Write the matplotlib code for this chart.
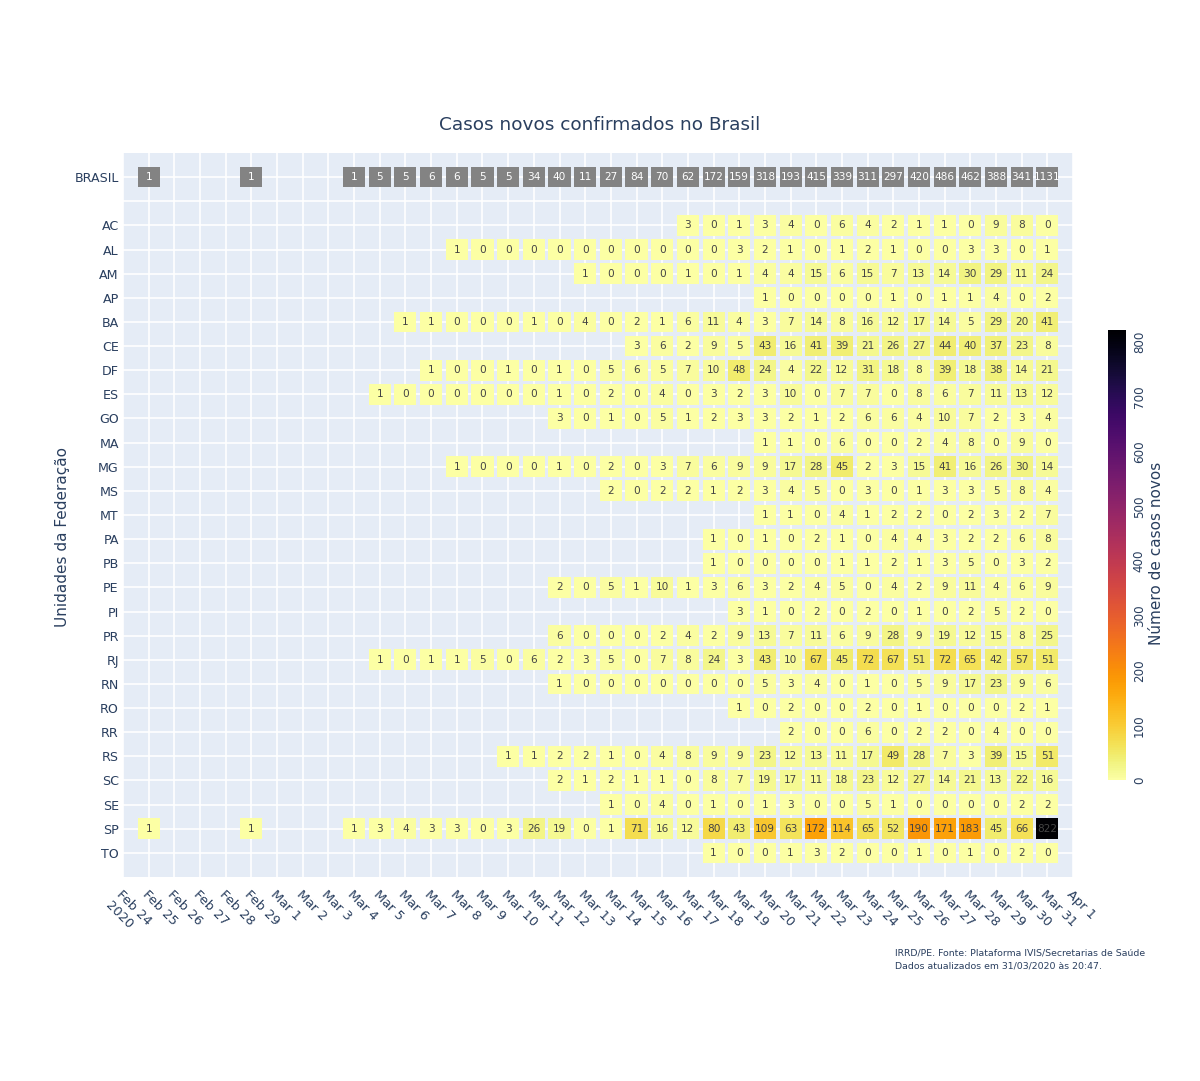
import matplotlib
matplotlib.use("Agg")
import matplotlib.pyplot as plt
import pandas as pd

# new confirmed cases per day, each series starts on its first_day
brasil = [1, None, None, None, 1, None, None, None, 1, 5, 5, 6, 6, 5, 5, 34, 40, 11, 27, 84,
          70, 62, 172, 159, 318, 193, 415, 339, 311, 297, 420, 486, 462, 388, 341, 1131]
brasil_start = "2020-02-25"

ac = [3, 0, 1, 3, 4, 0, 6, 4, 2, 1, 1, 0, 9, 8, 0]
al = [1, 0, 0, 0, 0, 0, 0, 0, 0, 0, 0, 3, 2, 1, 0, 1, 2, 1, 0, 0, 3, 3, 0, 1]
am = [1, 0, 0, 0, 1, 0, 1, 4, 4, 15, 6, 15, 7, 13, 14, 30, 29, 11, 24]
ap = [1, 0, 0, 0, 0, 1, 0, 1, 1, 4, 0, 2]
ba = [1, 1, 0, 0, 0, 1, 0, 4, 0, 2, 1, 6, 11, 4, 3, 7, 14, 8, 16, 12, 17, 14, 5, 29, 20, 41]
ce = [3, 6, 2, 9, 5, 43, 16, 41, 39, 21, 26, 27, 44, 40, 37, 23, 8]
df = [1, 0, 0, 1, 0, 1, 0, 5, 6, 5, 7, 10, 48, 24, 4, 22, 12, 31, 18, 8, 39, 18, 38, 14, 21]
es = [1, 0, 0, 0, 0, 0, 0, 1, 0, 2, 0, 4, 0, 3, 2, 3, 10, 0, 7, 7, 0, 8, 6, 7, 11, 13, 12]
go = [3, 0, 1, 0, 5, 1, 2, 3, 3, 2, 1, 2, 6, 6, 4, 10, 7, 2, 3, 4]
ma = [1, 1, 0, 6, 0, 0, 2, 4, 8, 0, 9, 0]
mg = [1, 0, 0, 0, 1, 0, 2, 0, 3, 7, 6, 9, 9, 17, 28, 45, 2, 3, 15, 41, 16, 26, 30, 14]
ms = [2, 0, 2, 2, 1, 2, 3, 4, 5, 0, 3, 0, 1, 3, 3, 5, 8, 4]
mt = [1, 1, 0, 4, 1, 2, 2, 0, 2, 3, 2, 7]
pa = [1, 0, 1, 0, 2, 1, 0, 4, 4, 3, 2, 2, 6, 8]
pb = [1, 0, 0, 0, 0, 1, 1, 2, 1, 3, 5, 0, 3, 2]
pe = [2, 0, 5, 1, 10, 1, 3, 6, 3, 2, 4, 5, 0, 4, 2, 9, 11, 4, 6, 9]
pi = [3, 1, 0, 2, 0, 2, 0, 1, 0, 2, 5, 2, 0]
pr = [6, 0, 0, 0, 2, 4, 2, 9, 13, 7, 11, 6, 9, 28, 9, 19, 12, 15, 8, 25]
rj = [1, 0, 1, 1, 5, 0, 6, 2, 3, 5, 0, 7, 8, 24, 3, 43, 10, 67, 45, 72, 67, 51, 72, 65, 42, 57, 51]
rn = [1, 0, 0, 0, 0, 0, 0, 0, 5, 3, 4, 0, 1, 0, 5, 9, 17, 23, 9, 6]
ro = [1, 0, 2, 0, 0, 2, 0, 1, 0, 0, 0, 2, 1]
rr = [2, 0, 0, 6, 0, 2, 2, 0, 4, 0, 0]
rs = [1, 1, 2, 2, 1, 0, 4, 8, 9, 9, 23, 12, 13, 11, 17, 49, 28, 7, 3, 39, 15, 51]
sc = [2, 1, 2, 1, 1, 0, 8, 7, 19, 17, 11, 18, 23, 12, 27, 14, 21, 13, 22, 16]
se = [1, 0, 4, 0, 1, 0, 1, 3, 0, 0, 5, 1, 0, 0, 0, 0, 2, 2]
sp = [1, None, None, None, 1, None, None, None, 1, 3, 4, 3, 3, 0, 3, 26, 19, 0, 1, 71, 16, 12,
      80, 43, 109, 63, 172, 114, 65, 52, 190, 171, 183, 45, 66, 822]
to = [1, 0, 0, 1, 3, 2, 0, 0, 1, 0, 1, 0, 2, 0]

states = ["AC", "AL", "AM", "AP", "BA", "CE", "DF", "ES", "GO", "MA", "MG", "MS", "MT", "PA",
          "PB", "PE", "PI", "PR", "RJ", "RN", "RO", "RR", "RS", "SC", "SE", "SP", "TO"]
series = [ac, al, am, ap, ba, ce, df, es, go, ma, mg, ms, mt, pa,
          pb, pe, pi, pr, rj, rn, ro, rr, rs, sc, se, sp, to]
first_day = ["2020-03-17", "2020-03-08", "2020-03-13", "2020-03-20", "2020-03-06", "2020-03-15",
             "2020-03-07", "2020-03-05", "2020-03-12", "2020-03-20", "2020-03-08", "2020-03-14",
             "2020-03-20", "2020-03-18", "2020-03-18", "2020-03-12", "2020-03-19", "2020-03-12",
             "2020-03-05", "2020-03-12", "2020-03-19", "2020-03-21", "2020-03-10", "2020-03-12",
             "2020-03-14", "2020-02-25", "2020-03-18"]

day0 = pd.Timestamp("2020-02-25")
tick_days = pd.date_range("2020-02-24", "2020-04-01", freq="D")
tick_labels = [d.strftime("%b ") + str(d.day) for d in tick_days]
tick_labels[0] += "\n2020"

row_labels = ["BRASIL", ""] + states
VMAX = 822
CELL = 0.86
TXT = "#2a3f5f"
FONT = "DejaVu Sans"
plt.rcParams["font.family"] = FONT

cmap = plt.get_cmap("inferno_r")
norm = plt.Normalize(0, VMAX)

fig = plt.figure(figsize=(12, 10.81), dpi=100)
ax = fig.add_axes([0.1025, 0.1887, 0.7917, 0.6698])
ax.set_facecolor("#E5ECF6")


def draw_row(row, start, values, gray=False):
    offset = (pd.Timestamp(start) - day0).days
    xs = [offset + i for i, v in enumerate(values) if v is not None]
    vs = [v for v in values if v is not None]
    colors = ["#838383"] * len(vs) if gray else [cmap(norm(v)) for v in vs]
    ax.bar(xs, CELL, bottom=row - CELL / 2, width=CELL, color=colors, zorder=3)
    for x, v in zip(xs, vs):
        ax.text(x, row, str(v), ha="center", va="center", fontsize=7.6,
                color="white" if gray else "#444444", zorder=4)


draw_row(0, brasil_start, brasil, gray=True)
for r, (start, vals) in enumerate(zip(first_day, series), start=2):
    draw_row(r, start, vals)

ax.set_xlim(-1, 36)
ax.set_ylim(29, -1)
ax.set_xticks(range(-1, 37))
ax.set_xticklabels(tick_labels, rotation=-45, ha="left", va="top",
                   rotation_mode="anchor", fontsize=9.4, color=TXT)
ax.set_yticks(range(len(row_labels)))
ax.set_yticklabels(row_labels, fontsize=9.1, color=TXT)
ax.tick_params(length=0)
ax.tick_params(axis="x", pad=8)
ax.tick_params(axis="y", pad=3)
ax.grid(color="white", linewidth=1.2, zorder=0)
ax.set_axisbelow(True)
for s in ax.spines.values():
    s.set_visible(False)

fig.text(0.5, 0.8844, "Casos novos confirmados no Brasil", ha="center", va="center",
         fontsize=13.3, color=TXT)
fig.text(0.052, 0.503, "Unidades da Federação", rotation=90, ha="center", va="center",
         fontsize=11, color=TXT)

cax = fig.add_axes([0.9233, 0.2784, 0.015, 0.4163])
sm = matplotlib.cm.ScalarMappable(norm=norm, cmap=cmap)
cb = fig.colorbar(sm, cax=cax)
cb.outline.set_visible(False)
cb.set_ticks(range(0, 801, 100))
cax.tick_params(length=0, pad=5, labelsize=8.6, labelcolor=TXT)
for t in cax.get_yticklabels():
    t.set_rotation(90)
    t.set_va("center")
fig.text(0.964, 0.488, "Número de casos novos", rotation=90, ha="center", va="center",
         fontsize=11, color=TXT)

fig.text(0.746, 0.118, "IRRD/PE. Fonte: Plataforma IVIS/Secretarias de Saúde",
         ha="left", va="center", fontsize=6.75, color=TXT)
fig.text(0.746, 0.106, "Dados atualizados em 31/03/2020 às 20:47.",
         ha="left", va="center", fontsize=6.75, color=TXT)

fig.savefig("out.png", dpi=100, facecolor="white")
